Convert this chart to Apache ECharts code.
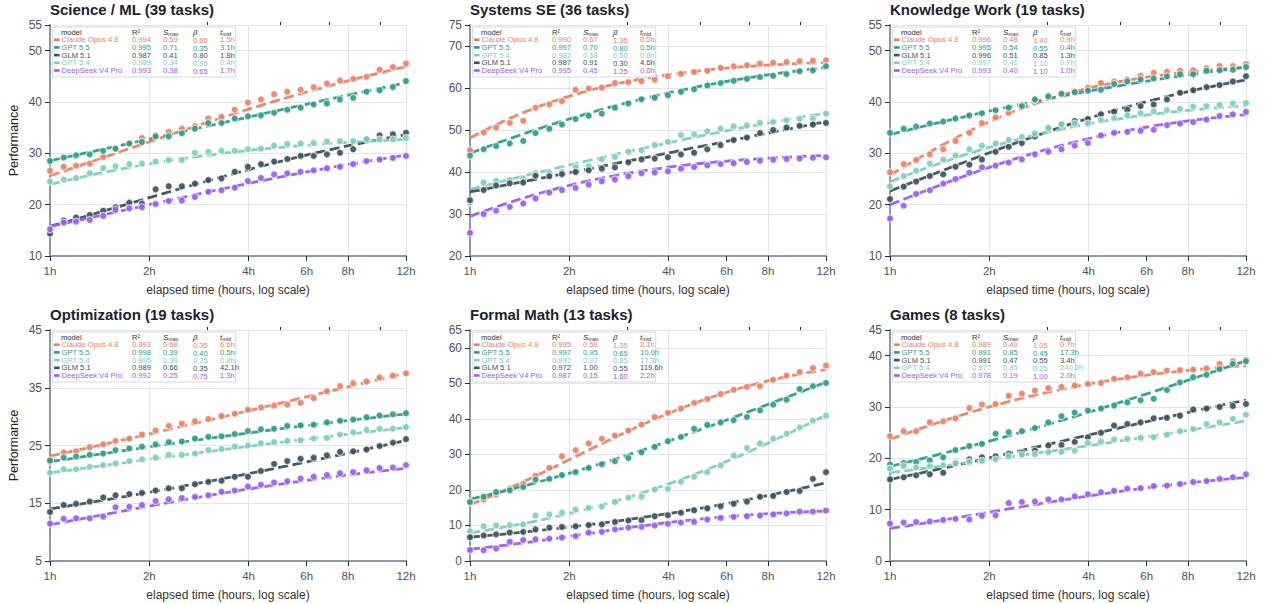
<!DOCTYPE html>
<html><head><meta charset="utf-8">
<script src="https://cdn.jsdelivr.net/npm/echarts@6/dist/echarts.min.js"></script>
<style>html,body{margin:0;padding:0;background:#fff}#c{width:1266px;height:604px}</style>
</head><body><div id="c"></div>
<script>
// ---------------- DATA ----------------
const hours = [1.00,1.10,1.20,1.32,1.45,1.58,1.74,1.90,2.09,2.29,2.51,2.75,3.02,3.31,3.63,3.98,4.36,4.78,5.24,5.75,6.30,6.91,7.57,8.30,9.11,9.98,10.95,12.00];
const xTickValues = [1,2,4,6,8,12];
const xTickLabels = ['1h','2h','4h','6h','8h','12h'];
const xMinorTicks = [3,5,7,10];
const xAxisTitle = 'elapsed time (hours, log scale)';
const yAxisTitle = 'Performance';
const modelNames = ['Claude Opus 4.8','GPT 5.5','GLM 5.1','GPT 5.4','DeepSeek V4 Pro'];

// Science / ML
const sciTitle = 'Science / ML (39 tasks)';
const sciYTicks = [10,20,30,40,50,55];
const sciOrder = ['Claude Opus 4.8','GPT 5.5','GLM 5.1','GPT 5.4','DeepSeek V4 Pro'];
const sciR2 = [0.994,0.995,0.987,0.989,0.993];
const sciSmax = [0.59,0.71,0.41,0.34,0.38];
const sciBeta = [0.65,0.35,0.80,0.95,0.65];
const sciTmid = [1.5,3.1,1.8,0.4,1.7];
const sciClaude = [26.6,27.4,27.6,28.0,29.3,31.0,32.0,33.0,33.5,34.2,34.8,35.3,36.8,37.1,38.5,39.9,40.5,41.5,42.0,42.4,42.9,43.6,44.2,44.5,44.9,46.3,46.8,47.5];
const sciGpt55 = [28.5,29.2,29.6,29.8,30.5,30.9,31.9,32.2,33.3,33.3,33.9,34.8,35.9,35.9,36.8,37.2,37.4,37.9,38.5,38.9,39.5,39.7,40.5,40.8,42.0,42.3,42.9,44.1];
const sciGlm = [14.4,16.9,17.5,18.0,18.8,19.5,20.4,20.2,23.0,23.6,23.6,24.1,24.8,25.1,26.4,27.4,27.9,28.4,28.9,29.5,29.5,29.8,30.1,30.8,32.6,33.5,33.7,34.0];
const sciGpt54 = [24.5,24.9,25.2,26.1,27.1,27.5,27.9,28.0,28.4,28.7,28.7,30.1,30.3,30.5,30.5,30.8,30.9,31.5,31.8,31.9,32.0,32.3,32.4,32.4,32.8,32.7,32.7,33.0];
const sciDs = [15.2,16.5,16.7,17.0,17.8,19.0,19.3,19.5,20.1,20.7,20.8,21.5,22.5,22.8,23.3,24.6,25.2,25.9,26.1,26.4,26.7,27.1,27.4,27.9,28.5,28.8,29.1,29.5];

// Systems SE
const sysTitle = 'Systems SE (36 tasks)';
const sysYTicks = [20,30,40,50,60,70,75];
const sysOrder = ['Claude Opus 4.8','GPT 5.5','GPT 5.4','GLM 5.1','DeepSeek V4 Pro'];
const sysR2 = [0.990,0.997,0.982,0.987,0.995];
const sysSmax = [0.67,0.70,0.68,0.91,0.45];
const sysBeta = [1.35,0.80,0.50,0.30,1.25];
const sysTmid = [0.5,0.5,0.8,4.6,0.6];
const sysClaude = [45.2,49.4,50.6,51.7,52.2,55.3,56.1,56.9,59.6,59.9,60.1,61.2,61.4,61.6,62.0,62.8,63.4,63.8,64.1,64.8,65.2,65.4,65.8,66.0,66.2,66.4,66.5,66.6];
const sysGpt55 = [43.9,45.4,46.2,46.8,47.4,49.3,50.3,51.3,52.6,53.4,53.9,55.3,56.3,57.3,57.7,58.3,59.1,59.7,60.6,61.2,61.7,62.2,62.6,62.9,63.3,64.0,64.2,65.2];
const sysGpt54 = [32.7,37.5,37.9,38.1,38.5,39.7,39.8,40.0,41.2,41.4,43.0,43.6,44.8,45.2,46.4,47.2,48.8,49.0,49.7,50.3,50.9,51.1,51.7,51.9,52.3,52.6,52.7,53.9];
const sysGlm = [33.3,35.7,36.8,37.3,37.5,39.1,39.0,39.5,40.0,40.4,40.8,41.1,42.3,43.0,43.2,43.5,44.2,44.6,45.4,46.4,47.6,48.2,49.3,50.0,50.6,51.0,51.3,51.7];
const sysDs = [25.5,30.0,30.8,31.7,32.5,33.7,35.1,35.7,36.2,37.0,37.8,38.2,39.0,39.7,39.9,40.2,40.8,41.2,41.6,41.9,42.1,42.4,42.7,42.9,43.1,43.2,43.4,43.5];

// Knowledge Work
const kwTitle = 'Knowledge Work (19 tasks)';
const kwYTicks = [10,20,30,40,50,55];
const kwOrder = ['Claude Opus 4.8','GPT 5.5','GLM 5.1','GPT 5.4','DeepSeek V4 Pro'];
const kwR2 = [0.996,0.995,0.996,0.997,0.993];
const kwSmax = [0.48,0.54,0.51,0.41,0.40];
const kwBeta = [1.40,0.55,0.85,1.10,1.10];
const kwTmid = [0.9,0.4,1.3,0.7,1.0];
const kwClaude = [26.3,27.9,28.7,29.8,30.8,32.4,34.0,35.9,37.0,37.9,39.4,40.5,41.1,41.5,42.1,42.8,43.7,44.0,44.4,45.1,45.7,45.9,46.1,46.2,46.6,47.0,47.0,47.4];
const kwGpt55 = [34.0,34.8,35.2,35.8,36.2,36.8,37.4,37.8,38.4,38.9,39.2,40.5,41.1,41.6,41.9,42.2,42.4,43.5,44.0,44.4,44.6,45.0,45.4,45.4,46.1,46.2,46.3,46.8];
const kwGlm = [21.1,23.5,24.5,25.6,25.9,27.4,27.8,28.8,30.3,31.3,32.0,33.3,34.8,35.5,36.3,36.7,37.6,38.1,38.5,39.2,39.5,40.5,41.8,42.3,42.9,43.3,44.0,45.0];
const kwGpt54 = [23.6,25.6,26.6,28.0,28.8,29.6,30.8,31.5,31.9,32.6,33.2,33.9,35.0,35.7,35.8,35.8,36.5,36.9,37.4,37.8,38.2,38.4,38.7,39.1,39.2,39.4,39.7,39.8];
const kwDs = [17.3,19.8,22.1,22.8,24.1,25.0,26.2,27.3,27.6,28.2,28.8,29.8,30.3,30.8,31.5,32.0,33.5,34.0,34.2,34.4,34.6,35.5,35.8,36.1,36.6,37.3,37.6,38.1];

// Optimization
const optTitle = 'Optimization (19 tasks)';
const optYTicks = [5,15,25,35,45];
const optOrder = ['Claude Opus 4.8','GPT 5.5','GPT 5.4','GLM 5.1','DeepSeek V4 Pro'];
const optR2 = [0.993,0.998,0.995,0.989,0.992];
const optSmax = [0.68,0.39,0.39,0.66,0.25];
const optBeta = [0.35,0.40,0.35,0.35,0.75];
const optTmid = [6.6,0.5,0.8,42.1,1.3];
const optClaude = [22.2,23.8,24.0,24.7,25.2,25.8,26.2,26.9,27.6,28.4,28.8,29.2,29.6,30.1,30.5,31.2,31.6,31.9,32.1,32.4,33.2,34.4,35.3,35.8,36.1,36.8,37.1,37.5];
const optGpt55 = [22.4,22.9,23.1,23.4,23.6,24.2,24.5,24.8,25.2,25.6,25.7,26.2,26.5,26.6,27.0,27.5,27.8,27.9,28.4,28.5,28.6,29.0,29.3,29.5,29.9,30.2,30.4,30.6];
const optGpt54 = [20.3,20.9,20.9,21.3,21.6,21.9,22.3,22.6,22.9,23.4,23.4,23.6,24.2,24.4,24.8,25.0,25.4,25.6,25.8,25.9,26.2,26.3,26.9,27.3,27.7,27.9,27.9,28.2];
const optGlm = [13.5,14.7,14.9,15.3,16.0,16.4,16.6,16.8,17.2,17.6,17.6,18.3,18.7,18.9,19.6,19.6,20.6,21.8,22.3,22.7,22.9,23.3,23.9,24.0,24.3,24.9,25.5,26.1];
const optDs = [11.5,12.3,12.4,12.4,12.7,14.3,14.4,14.7,15.4,15.7,15.9,16.1,16.4,17.0,17.2,17.9,18.2,18.6,18.8,19.3,19.6,19.9,20.2,20.4,20.7,21.1,21.2,21.6];

// Formal Math
const fmTitle = 'Formal Math (13 tasks)';
const fmYTicks = [0,10,20,30,40,50,60,65];
const fmOrder = ['Claude Opus 4.8','GPT 5.5','GPT 5.4','GLM 5.1','DeepSeek V4 Pro'];
const fmR2 = [0.995,0.997,0.992,0.972,0.987];
const fmSmax = [0.59,0.95,0.97,1.00,0.15];
const fmBeta = [1.35,0.65,0.85,0.55,1.60];
const fmTmid = [2.1,10.0,17.3,119.6,2.2];
const fmClaude = [16.6,17.3,18.7,20.4,21.7,24.0,26.2,29.5,31.2,33.1,34.4,35.3,36.7,38.4,40.5,41.7,42.9,44.5,45.6,47.0,48.2,49.0,49.2,51.0,52.2,53.2,54.3,55.0];
const fmGpt55 = [16.6,18.1,19.4,19.9,20.8,22.9,23.1,24.2,25.0,26.2,27.2,28.1,29.0,30.6,32.1,33.7,34.9,37.2,38.3,39.0,39.6,40.5,42.4,44.0,45.4,48.4,49.2,50.1];
const fmGpt54 = [8.4,9.8,10.0,10.1,10.3,12.8,13.1,13.6,14.5,15.0,15.3,16.6,17.8,18.1,20.1,20.3,22.3,23.7,25.0,26.9,29.7,31.8,33.1,34.4,35.8,37.6,39.5,40.9];
const fmGlm = [6.7,7.2,7.5,8.0,8.2,8.9,9.4,9.6,9.8,10.1,10.3,11.0,11.4,11.5,12.6,12.9,13.6,14.3,14.8,15.4,16.1,16.7,18.1,18.3,19.4,19.7,23.1,25.0];
const fmDs = [3.1,3.0,3.5,5.4,5.9,6.1,6.3,6.6,7.0,8.0,8.2,8.9,9.4,9.6,10.0,10.5,10.8,11.0,11.7,12.1,12.4,12.6,12.8,13.1,13.4,13.9,13.9,14.2];

// Games
const gmTitle = 'Games (8 tasks)';
const gmYTicks = [0,10,20,30,40,45];
const gmOrder = ['Claude Opus 4.8','GPT 5.5','GLM 5.1','GPT 5.4','DeepSeek V4 Pro'];
const gmR2 = [0.989,0.991,0.991,0.977,0.978];
const gmSmax = [0.40,0.85,0.47,0.85,0.19];
const gmBeta = [1.05,0.45,0.55,0.25,1.00];
const gmTmid = [0.7,17.3,3.4,240.0,2.0];
const gmClaude = [24.3,25.3,25.3,27.0,27.2,27.8,29.8,30.5,30.6,32.2,32.6,33.2,33.7,33.9,34.2,34.5,34.7,35.5,35.8,36.5,36.8,37.1,37.2,37.3,37.5,38.4,38.9,39.2];
const gmGpt55 = [18.8,19.1,19.3,19.6,20.2,21.6,22.4,22.8,24.8,25.1,25.3,25.9,27.0,28.2,28.9,29.3,29.7,30.3,30.9,31.3,31.6,33.3,34.8,35.8,36.3,37.4,38.4,38.9];
const gmGlm = [15.9,16.3,16.7,16.9,17.2,19.1,19.8,20.2,20.4,20.9,21.1,21.5,22.5,22.6,23.2,24.1,25.0,26.4,26.7,27.0,27.8,27.9,28.3,29.5,29.7,30.0,30.2,30.6];
const gmGpt54 = [18.0,18.5,18.2,18.5,18.7,19.0,19.3,19.5,19.8,20.4,20.7,20.8,21.2,21.3,21.5,23.0,23.3,23.7,23.8,24.0,24.1,24.6,25.3,25.7,26.7,27.0,27.7,28.5];
const gmDs = [7.3,7.5,7.6,7.7,8.0,8.2,8.1,8.8,8.9,11.3,11.5,11.6,12.0,12.0,12.6,13.0,13.4,13.7,14.1,14.2,14.6,14.7,15.0,15.4,15.6,16.0,16.3,16.9];

// ---------------- STYLE / LAYOUT ----------------
const FONT = '"Liberation Sans", Arial, Helvetica, sans-serif';
const COLORS = {
  'Claude Opus 4.8': '#f07f63',
  'GPT 5.5': '#2d9d8a',
  'GLM 5.1': '#3d505c',
  'GPT 5.4': '#7dcfbf',
  'DeepSeek V4 Pro': '#9a5cf6'
};
const GRID_COLOR = '#e1e6ed';
const AXIS_COLOR = '#8e99a8';
const GRID_W = 356, GRID_H = 231;
const LAYOUT = [[50,25],[470,25],[890,25],[50,330],[470,330],[890,330]];

const panels = [
  {title: sciTitle, yTicks: sciYTicks, order: sciOrder, r2: sciR2, smax: sciSmax, beta: sciBeta, tmid: sciTmid,
   values: {'Claude Opus 4.8': sciClaude, 'GPT 5.5': sciGpt55, 'GLM 5.1': sciGlm, 'GPT 5.4': sciGpt54, 'DeepSeek V4 Pro': sciDs}},
  {title: sysTitle, yTicks: sysYTicks, order: sysOrder, r2: sysR2, smax: sysSmax, beta: sysBeta, tmid: sysTmid,
   values: {'Claude Opus 4.8': sysClaude, 'GPT 5.5': sysGpt55, 'GLM 5.1': sysGlm, 'GPT 5.4': sysGpt54, 'DeepSeek V4 Pro': sysDs}},
  {title: kwTitle, yTicks: kwYTicks, order: kwOrder, r2: kwR2, smax: kwSmax, beta: kwBeta, tmid: kwTmid,
   values: {'Claude Opus 4.8': kwClaude, 'GPT 5.5': kwGpt55, 'GLM 5.1': kwGlm, 'GPT 5.4': kwGpt54, 'DeepSeek V4 Pro': kwDs}},
  {title: optTitle, yTicks: optYTicks, order: optOrder, r2: optR2, smax: optSmax, beta: optBeta, tmid: optTmid,
   values: {'Claude Opus 4.8': optClaude, 'GPT 5.5': optGpt55, 'GLM 5.1': optGlm, 'GPT 5.4': optGpt54, 'DeepSeek V4 Pro': optDs}},
  {title: fmTitle, yTicks: fmYTicks, order: fmOrder, r2: fmR2, smax: fmSmax, beta: fmBeta, tmid: fmTmid,
   values: {'Claude Opus 4.8': fmClaude, 'GPT 5.5': fmGpt55, 'GLM 5.1': fmGlm, 'GPT 5.4': fmGpt54, 'DeepSeek V4 Pro': fmDs}},
  {title: gmTitle, yTicks: gmYTicks, order: gmOrder, r2: gmR2, smax: gmSmax, beta: gmBeta, tmid: gmTmid,
   values: {'Claude Opus 4.8': gmClaude, 'GPT 5.5': gmGpt55, 'GLM 5.1': gmGlm, 'GPT 5.4': gmGpt54, 'DeepSeek V4 Pro': gmDs}}
];

// fitted saturating curve S(t) = 100*Smax / (1 + (tmid/t)^beta), evaluated with the legend parameters
function fitCurve(smax, beta, tmid) {
  return hours.map(t => [t, 100 * smax / (1 + Math.pow(tmid / t, beta))]);
}
function xLabel(v) {
  let best = 0;
  xTickValues.forEach((tv, i) => { if (Math.abs(tv - v) < Math.abs(xTickValues[best] - v)) best = i; });
  return xTickLabels[best];
}

const option = {
  animation: false,
  backgroundColor: '#ffffff',
  title: [], grid: [], xAxis: [], yAxis: [], series: [], graphic: []
};

const xSplitColors = xTickValues.map(v => (v === 1 || v === 6) ? 'rgba(0,0,0,0)' : GRID_COLOR);

panels.forEach((p, k) => {
  const [L, T] = LAYOUT[k];
  option.title.push({
    text: p.title, left: L, top: T - 23, padding: 0,
    textStyle: {fontFamily: FONT, fontSize: 15, fontWeight: 'bold', color: '#1d2230'}
  });
  option.grid.push({left: L, top: T, width: GRID_W, height: GRID_H, containLabel: false});
  option.xAxis.push({
    type: 'log', gridIndex: k, min: 1, max: 12, logBase: 2,
    axisLine: {show: true, onZero: false, lineStyle: {color: AXIS_COLOR, width: 2}},
    axisTick: {show: true, customValues: xTickValues, length: 5, lineStyle: {color: '#2b2f36', width: 1}},
    axisLabel: {customValues: xTickValues, formatter: xLabel, fontFamily: FONT, fontSize: 11.5, color: '#4b5563', margin: 9},
    splitLine: {show: true, lineStyle: {color: xSplitColors, width: 1.2}},
    minorTick: {show: false}, minorSplitLine: {show: false},
    name: xAxisTitle, nameLocation: 'middle', nameGap: 28,
    nameTextStyle: {fontFamily: FONT, fontSize: 12, color: '#333'}
  });
  option.xAxis.push({
    type: 'log', gridIndex: k, min: 1, max: 12, logBase: 2,
    axisLine: {show: false, onZero: false},
    axisTick: {show: true, customValues: xMinorTicks, length: 3, lineStyle: {color: '#2b2f36', width: 1}},
    axisLabel: {show: false}, splitLine: {show: false}
  });
  option.yAxis.push({
    type: 'value', gridIndex: k, min: p.yTicks[0], max: p.yTicks[p.yTicks.length - 1],
    axisLine: {show: true, onZero: false, lineStyle: {color: AXIS_COLOR, width: 2}},
    axisTick: {show: true, customValues: p.yTicks, length: 5, lineStyle: {color: '#2b2f36', width: 1}},
    axisLabel: {customValues: p.yTicks, fontFamily: FONT, fontSize: 12, color: '#4b5563', margin: 8},
    splitLine: {show: true, lineStyle: {color: GRID_COLOR, width: 1.2}},
    name: (k % 3 === 0) ? yAxisTitle : '', nameLocation: 'middle', nameGap: 30,
    nameTextStyle: {fontFamily: FONT, fontSize: 12.5, color: '#222'}
  });

  p.order.forEach((name, j) => {
    const c = COLORS[name];
    option.series.push({
      type: 'line', name: name, xAxisIndex: 2 * k, yAxisIndex: k,
      data: fitCurve(p.smax[j], p.beta[j], p.tmid[j]),
      showSymbol: false, silent: true, z: 2,
      lineStyle: {color: c, width: 2.8, type: [10, 4.5], opacity: 0.95}
    });
  });
  p.order.forEach((name) => {
    const c = COLORS[name];
    option.series.push({
      type: 'scatter', name: name, xAxisIndex: 2 * k, yAxisIndex: k,
      data: hours.map((t, i) => [t, p.values[name][i]]),
      symbolSize: 7, z: 3,
      itemStyle: {color: c, borderColor: 'rgba(255,255,255,0.65)', borderWidth: 1.3, opacity: 0.92}
    });
  });

  // legend table
  const g = option.graphic;
  const fs = 7.6;
  g.push({type: 'rect', z: 100, shape: {x: L + 2.7, y: T + 2, width: 183, height: 50},
    style: {fill: 'rgba(255,255,255,0.93)', stroke: '#d3d9e1', lineWidth: 1}});
  const hy = T + 7.6;
  const txt = (x, y, text, fill, extra) => g.push({type: 'text', z: 101, x: x, y: y,
    style: Object.assign({text: text, fill: fill, fontSize: fs, fontFamily: FONT, align: 'left', verticalAlign: 'middle'}, extra || {})});
  const subRich = {
    i: {fontStyle: 'italic', fontSize: 8, fontFamily: FONT, color: '#333', lineHeight: 8.5},
    b: {fontSize: 5.4, fontFamily: FONT, color: '#333', verticalAlign: 'bottom', lineHeight: 5.4}
  };
  txt(L + 11, hy, 'model', '#333');
  txt(L + 82, hy, 'R²', '#333');
  txt(L + 113, hy, '{i|S}{b|max}', '#333', {rich: subRich});
  txt(L + 143, hy, 'β', '#333', {fontStyle: 'italic', fontSize: 8});
  txt(L + 170, hy, '{i|t}{b|mid}', '#333', {rich: subRich});
  p.order.forEach((name, j) => {
    const c = COLORS[name];
    const ry = T + 14.7 + j * 7.7;
    g.push({type: 'rect', z: 101, shape: {x: L + 4, y: ry - 1.3, width: 5.6, height: 2.6}, style: {fill: c}});
    txt(L + 11.5, ry, name, c);
    txt(L + 82, ry, p.r2[j].toFixed(3), c);
    txt(L + 113, ry, p.smax[j].toFixed(2), c);
    txt(L + 143, ry + 0.8, p.beta[j].toFixed(2), c);
    txt(L + 170, ry, p.tmid[j].toFixed(1) + 'h', c);
  });
});

const chart = echarts.init(document.getElementById('c'), null, {renderer: 'svg', width: 1266, height: 604});
chart.setOption(option);
</script>
</body></html>
